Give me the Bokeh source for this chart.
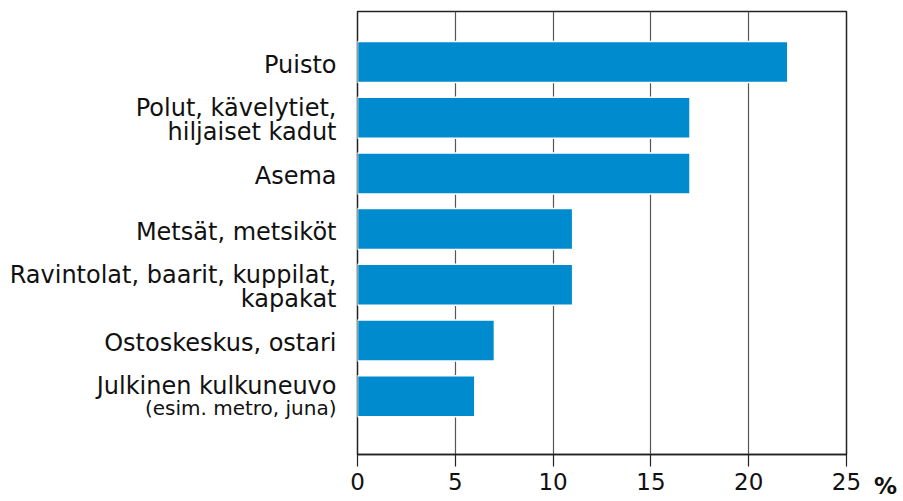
from bokeh.plotting import figure
from bokeh.models import ColumnDataSource, Range1d, FixedTicker
from bokeh.layouts import row
from bokeh.core.properties import value
from bokeh.embed import file_html
from bokeh.resources import INLINE

# ---- data ----
categories = [
    "Puisto",
    "Polut, kävelytiet,\nhiljaiset kadut",
    "Asema",
    "Metsät, metsiköt",
    "Ravintolat, baarit, kuppilat,\nkapakat",
    "Ostoskeskus, ostari",
    "Julkinen kulkuneuvo",
]
sublabels = ["", "", "", "", "", "", "(esim. metro, juna)"]
values = [22, 17, 17, 11, 11, 7, 6]
x_ticks = [0, 5, 10, 15, 20, 25]
unit_label = "%"

BAR_COLOR = "#008BCE"
FONT = "DejaVu Sans"
TXT = "#111111"
PITCH = 55.7  # px per category

n = len(categories)
ypos = [n - 1 - i for i in range(n)]
yr = Range1d(-1.047, n - 1 + 0.907)

H = 501
TOP, BOT = 11, 47
LEFT_W = 347
MAIN_W = 515

def blank(fig):
    fig.yaxis.visible = False
    fig.grid.visible = False
    fig.outline_line_color = None
    fig.background_fill_color = None
    fig.border_fill_color = None

# ---- label panel ----
lp = figure(width=LEFT_W, height=H, output_backend="svg", toolbar_location=None,
            x_range=Range1d(0, LEFT_W), y_range=yr,
            min_border_left=0, min_border_right=0, min_border_top=TOP, min_border_bottom=BOT)
blank(lp)
lp.xaxis.visible = False

mx, my, mt = [], [], []
sx, sy, st = [], [], []
for cat, sub, y in zip(categories, sublabels, ypos):
    lines = cat.split("\n")
    if sub:
        offs = [-10.5]
    elif len(lines) == 1:
        offs = [3.0]
    else:
        offs = [-9.5, 14.5]
    for line, o in zip(lines, offs):
        mx.append(LEFT_W - 11); my.append(y - o / PITCH); mt.append(line)
    if sub:
        sx.append(LEFT_W - 11); sy.append(y - 12.0 / PITCH); st.append(sub)

lp.text(x="x", y="y", text="t", source=ColumnDataSource(dict(x=mx, y=my, t=mt)),
        text_align="right", text_baseline="alphabetic",
        text_font=value(FONT), text_font_size=value("24px"), text_color=TXT)
lp.text(x="x", y="y", text="t", source=ColumnDataSource(dict(x=sx, y=sy, t=st)),
        text_align="right", text_baseline="alphabetic",
        text_font=value(FONT), text_font_size=value("20px"), text_color=TXT)

# ---- main chart ----
p = figure(width=MAIN_W, height=H, output_backend="svg", toolbar_location=None,
           x_range=Range1d(0, 25), y_range=yr,
           min_border_left=10, min_border_right=16, min_border_top=TOP,
           min_border_bottom=BOT)

src = ColumnDataSource(dict(y=ypos, v=values))
p.hbar(y="y", right="v", left=0, height=0.736, source=src,
       fill_color=BAR_COLOR, line_color="white", line_width=1.5)

p.ygrid.visible = False
p.xgrid.ticker = FixedTicker(ticks=x_ticks)
p.xgrid.grid_line_color = "#555555"
p.xgrid.grid_line_width = 1.2

p.yaxis.visible = False

def style_axis(ax):
    ax.major_tick_out = 12
    ax.major_tick_in = 0
    ax.minor_tick_line_color = None
    ax.major_label_text_font = FONT
    ax.major_label_text_color = TXT
    ax.major_label_standoff = 6
    ax.major_label_text_font_size = "23px"

ax = p.xaxis[0]
ax.ticker = FixedTicker(ticks=x_ticks)
ax.axis_line_color = "#222222"
ax.axis_line_width = 1.5
ax.major_tick_line_color = "#222222"
ax.major_tick_line_width = 1.2
style_axis(ax)

p.outline_line_color = "#222222"
p.outline_line_width = 1.5

# ---- unit panel (bold % sits in the tick-label band) ----
RW = 900 - LEFT_W - MAIN_W
rp = figure(width=RW, height=H, output_backend="svg", toolbar_location=None,
            x_range=Range1d(0, RW), y_range=yr,
            min_border_left=0, min_border_right=0, min_border_top=TOP, min_border_bottom=BOT)
blank(rp)
rax = rp.xaxis[0]
rax.ticker = FixedTicker(ticks=[23])
rax.major_label_overrides = {23: unit_label}
rax.axis_line_color = None
rax.major_tick_line_color = None
style_axis(rax)
rax.major_label_text_font_style = "bold"

layout = row(lp, p, rp, spacing=0)
open("out.html", "w").write(file_html(layout, INLINE))
